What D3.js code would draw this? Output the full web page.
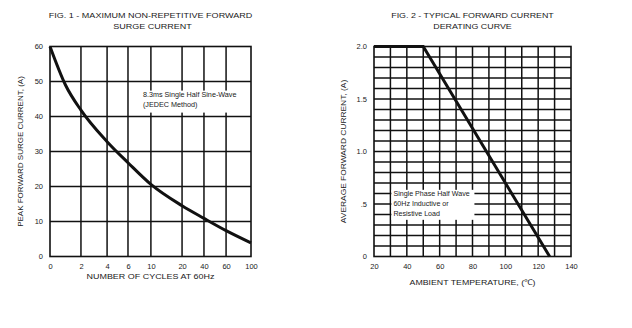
<!DOCTYPE html>
<html>
<head>
<meta charset="utf-8">
<script src="https://cdn.jsdelivr.net/npm/d3@7"></script>
<style>
  html, body { margin: 0; padding: 0; background: #fff; }
  svg { display: block; }
  text { font-family: "Liberation Sans", Arial, sans-serif; fill: #1a1a1a; }
</style>
</head>
<body>
<svg id="chart" width="632" height="328"></svg>
<script>
// ---- Fig. 1: peak surge current vs number of cycles ----
const cycleTicks = [0, 2, 4, 6, 10, 20, 40, 60, 100];
const surgeTicks = [0, 10, 20, 30, 40, 50, 60];
const surgeCycles = [0, 1, 2, 4, 6, 10, 20, 40, 60, 100];
const surgeAmps   = [60, 49, 41.8, 32.8, 26.8, 20.6, 14.5, 10.9, 7.4, 3.9];

// ---- Fig. 2: forward current derating ----
const tempTicks = [20, 40, 60, 80, 100, 120, 140];
const currentTicks = [0, 0.5, 1.0, 1.5, 2.0];
const currentTickLabels = ["0", ".5", "1.0", "1.5", "2.0"];
const deratingTemp = [20, 50, 127];
const deratingAmps = [2.0, 2.0, 0];

const svg = d3.select("#chart");
const ink = "#111";

// layout
const p1 = { x: 50, y: 46.5, w: 201, h: 210 };
const p2 = { x: 374, y: 46.5, w: 197, h: 210 };
// fractional placement of the cycle gridlines along the fig. 1 axis
const cycleFrac = [0, 0.154, 0.284, 0.388, 0.502, 0.657, 0.766, 0.876, 1];

// text helper: the printed face is a little wider than Arial, so stretch horizontally
function label(parent, x, y, str, opts = {}) {
  const { size = 8, sx = 1, anchor = "start", rotate = 0 } = opts;
  return parent.append("text")
    .attr("transform", `translate(${x},${y})${rotate ? ` rotate(${rotate})` : ""} scale(${sx},1)`)
    .attr("text-anchor", anchor).attr("font-size", size).text(str);
}

function styleAxis(sel) {
  sel.select(".domain").remove();
  sel.selectAll("text").attr("font-size", 7.5).attr("font-family", null).attr("fill", "#1a1a1a");
}

// ===== Fig. 1 =====
{
  const g = svg.append("g").attr("transform", `translate(${p1.x},${p1.y})`);
  const x = d3.scaleLinear().domain(cycleTicks).range(cycleFrac.map(f => f * p1.w));
  const y = d3.scaleLinear().domain([0, 60]).range([p1.h, 0]);

  // grid
  g.selectAll("line.v").data(cycleTicks.slice(1, -1)).join("line")
    .attr("class", "v")
    .attr("x1", d => x(d)).attr("x2", d => x(d)).attr("y1", 0).attr("y2", p1.h)
    .attr("stroke", ink).attr("stroke-width", 1.5);
  g.selectAll("line.h").data(surgeTicks.slice(1, -1)).join("line")
    .attr("class", "h")
    .attr("x1", 0).attr("x2", p1.w).attr("y1", d => y(d)).attr("y2", d => y(d))
    .attr("stroke", ink).attr("stroke-width", 1.5);

  // annotation on a white backdrop
  g.append("rect").attr("x", x(10) - 10).attr("y", y(47.4)).attr("width", 98).attr("height", 22)
    .attr("fill", "#fff");
  label(g, x(10) - 8, y(45.6), "8.3ms Single Half Sine-Wave", { size: 6.4, sx: 1.13 });
  label(g, x(10) - 8, y(42.8), "(JEDEC Method)", { size: 6.4, sx: 1.13 });

  g.append("rect").attr("width", p1.w).attr("height", p1.h)
    .attr("fill", "none").attr("stroke", ink).attr("stroke-width", 1.6);

  const line = d3.line().x((d, i) => x(surgeCycles[i])).y(d => y(d)).curve(d3.curveMonotoneX);
  g.append("path").datum(surgeAmps).attr("d", line)
    .attr("fill", "none").attr("stroke", ink).attr("stroke-width", 3);

  // axes: labels only, no tick marks
  styleAxis(g.append("g").attr("transform", `translate(0,${p1.h})`)
    .call(d3.axisBottom(x).tickValues(cycleTicks).tickSize(0).tickPadding(7)));
  styleAxis(g.append("g")
    .call(d3.axisLeft(y).tickValues(surgeTicks).tickSize(0).tickPadding(7)));

  label(g, p1.w / 2, p1.h + 22, "NUMBER OF CYCLES AT 60Hz", { anchor: "middle", sx: 1.12 });
  label(g, -27, p1.h / 2, "PEAK FORWARD SURGE CURRENT, (A)", { anchor: "middle", rotate: -90 });

  label(svg, p1.x + p1.w / 2, 18, "FIG. 1 - MAXIMUM NON-REPETITIVE FORWARD", { anchor: "middle", sx: 1.13 });
  label(svg, p1.x + p1.w / 2 + 2, 29, "SURGE CURRENT", { anchor: "middle", sx: 1.13 });
}

// ===== Fig. 2 =====
{
  const g = svg.append("g").attr("transform", `translate(${p2.x},${p2.y})`);
  const x = d3.scaleLinear().domain([20, 140]).range([0, p2.w]);
  const y = d3.scaleLinear().domain([0, 2]).range([p2.h, 0]);

  g.selectAll("line.v").data(d3.range(30, 140, 10)).join("line")
    .attr("class", "v")
    .attr("x1", d => x(d)).attr("x2", d => x(d)).attr("y1", 0).attr("y2", p2.h)
    .attr("stroke", ink).attr("stroke-width", 1.5);
  g.selectAll("line.h").data(d3.range(1, 20).map(i => i / 10)).join("line")
    .attr("class", "h")
    .attr("x1", 0).attr("x2", p2.w).attr("y1", d => y(d)).attr("y2", d => y(d))
    .attr("stroke", ink).attr("stroke-width", 1.5);

  g.append("rect").attr("x", x(30) + 1).attr("y", y(0.635)).attr("width", 83).attr("height", 30)
    .attr("fill", "#fff");
  ["Single Phase Half Wave", "60Hz Inductive or", "Resistive Load"].forEach((t, i) => {
    label(g, x(30) + 3, y(0.58) + i * 10, t, { size: 6.4, sx: 1.11 });
  });

  g.append("rect").attr("width", p2.w).attr("height", p2.h)
    .attr("fill", "none").attr("stroke", ink).attr("stroke-width", 1.6);

  const line = d3.line().x((d, i) => x(deratingTemp[i])).y(d => y(d));
  g.append("path").datum(deratingAmps).attr("d", line)
    .attr("fill", "none").attr("stroke", ink).attr("stroke-width", 3);

  styleAxis(g.append("g").attr("transform", `translate(0,${p2.h})`)
    .call(d3.axisBottom(x).tickValues(tempTicks).tickSize(0).tickPadding(7)));
  styleAxis(g.append("g")
    .call(d3.axisLeft(y).tickValues(currentTicks).tickSize(0).tickPadding(7)
      .tickFormat((d, i) => currentTickLabels[i])));

  label(g, p2.w / 2, p2.h + 28, "AMBIENT TEMPERATURE, (℃)", { anchor: "middle", sx: 1.1 });
  label(g, 343 - p2.x + 3, p2.h / 2, "AVERAGE FORWARD CURRENT, (A)", { anchor: "middle", rotate: -90, sx: 1.05 });

  label(svg, p2.x + p2.w / 2, 18, "FIG. 2 - TYPICAL FORWARD CURRENT", { anchor: "middle", sx: 1.11 });
  label(svg, p2.x + p2.w / 2, 29, "DERATING CURVE", { anchor: "middle", sx: 1.11 });
}
</script>
</body>
</html>
